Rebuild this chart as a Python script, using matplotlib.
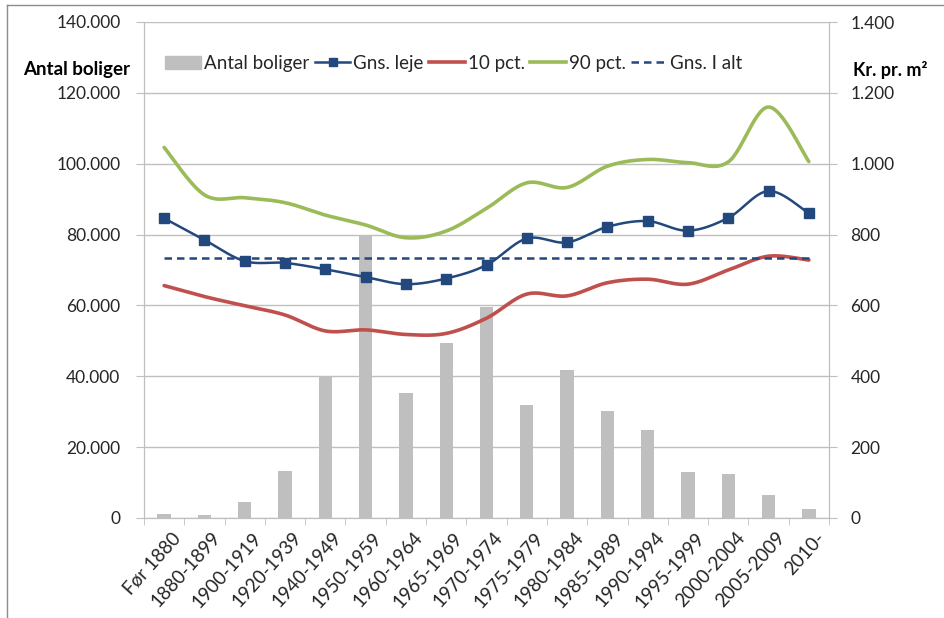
import numpy as np
import matplotlib.pyplot as plt
import matplotlib.transforms as mtransforms
from matplotlib.lines import Line2D
from matplotlib.patches import Patch

plt.rcParams['font.family'] = ['Lato', 'DejaVu Sans']

perioder = ['Før 1880', '1880-1899', '1900-1919', '1920-1939', '1940-1949',
            '1950-1959', '1960-1964', '1965-1969', '1970-1974', '1975-1979',
            '1980-1984', '1985-1989', '1990-1994', '1995-1999', '2000-2004',
            '2005-2009', '2010-']
antal_boliger = [1200, 900, 4500, 13200, 40000, 80000, 35200, 49400, 59500,
                 32000, 41800, 30200, 24800, 12900, 12300, 6500, 2600]
gns_leje = [846, 785, 725, 720, 702, 680, 660, 676, 714, 789, 778, 822, 838,
            811, 847, 923, 860]
pct10 = [656, 625, 599, 573, 528, 531, 518, 521, 564, 632, 627, 664, 674,
         660, 700, 739, 728]
pct90 = [1046, 912, 904, 890, 855, 827, 791, 810, 874, 946, 933, 993, 1012,
         1003, 1005, 1160, 1006]
gns_i_alt = 735


def smooth(x, y, n=30):
    # Excel-style smoothed line (Catmull-Rom bezier through the points)
    x = np.asarray(x, float)
    y = np.asarray(y, float)
    px = np.concatenate([[x[0]], x, [x[-1]]])
    py = np.concatenate([[y[0]], y, [y[-1]]])
    xs, ys = [], []
    t = np.linspace(0, 1, n)
    for i in range(1, len(px) - 2):
        p0 = np.array([px[i], py[i]])
        p3 = np.array([px[i + 1], py[i + 1]])
        c1 = p0 + (np.array([px[i + 1], py[i + 1]]) - np.array([px[i - 1], py[i - 1]])) / 6
        c2 = p3 - (np.array([px[i + 2], py[i + 2]]) - np.array([px[i], py[i]])) / 6
        b = ((1 - t) ** 3)[:, None] * p0 + (3 * (1 - t) ** 2 * t)[:, None] * c1 \
            + (3 * (1 - t) * t ** 2)[:, None] * c2 + (t ** 3)[:, None] * p3
        xs.extend(b[:, 0])
        ys.extend(b[:, 1])
    return xs, ys


fig = plt.figure(figsize=(9.44, 6.18), dpi=100)
ax = fig.add_axes([144 / 944, 1 - 518 / 618, 685 / 944, 496 / 618])
ax2 = ax.twinx()

x = np.arange(len(perioder))
grid_c = '#BFBFBF'
blue = '#23487E'
red = '#C0504D'
green = '#9BBB59'
text_c = '#262626'

ax.bar(x, antal_boliger, width=0.33, color='#BFBFBF', zorder=2)
ax.set_ylim(0, 140000)
ax.set_xlim(-0.5, len(perioder) - 0.5)
ax.set_yticks(np.arange(0, 140001, 20000))
ax.set_yticklabels([f'{v:,}'.replace(',', '.') for v in range(0, 140001, 20000)])
ax.yaxis.grid(True, color=grid_c, lw=1)
ax.set_axisbelow(True)

ax2.set_ylim(0, 1400)
ax2.set_yticks(np.arange(0, 1401, 200))
ax2.set_yticklabels([f'{v:,}'.replace(',', '.') for v in range(0, 1401, 200)])

sx, sy = smooth(x, pct90)
ax2.plot(sx, sy, color=green, lw=2.6, solid_capstyle='round')
sx, sy = smooth(x, pct10)
ax2.plot(sx, sy, color=red, lw=2.6, solid_capstyle='round')
ax2.plot([x[0], x[-1]], [gns_i_alt, gns_i_alt], color=blue, lw=1.8,
         ls=(0, (3, 2)))
sx, sy = smooth(x, gns_leje)
ax2.plot(sx, sy, color=blue, lw=1.8)
ax2.plot(x, gns_leje, ls='none', marker='s', ms=7, color=blue)

ax.set_xticks(x)
ax.set_xticklabels(perioder, rotation=48, ha='right', rotation_mode='anchor')
ax.set_xticks(np.arange(-0.5, len(perioder)), minor=True)
ax.tick_params(axis='x', which='major', length=0, pad=8, labelsize=13.5,
               labelcolor=text_c)
ax.tick_params(axis='x', which='minor', length=5, color=grid_c, direction='out')
ax.tick_params(axis='y', length=6, color=grid_c, labelsize=12.5,
               labelcolor=text_c, pad=11)
ax2.tick_params(axis='y', length=6, color=grid_c, labelsize=12.5,
                labelcolor=text_c, pad=9.5)

shift = mtransforms.ScaledTranslation(7 / 100, 0, fig.dpi_scale_trans)
for lab in ax.get_xticklabels():
    lab.set_transform(lab.get_transform() + shift)

for a in (ax, ax2):
    a.spines['top'].set_visible(False)
    for s in ('left', 'right', 'bottom'):
        a.spines[s].set_color(grid_c)

fig.text(23 / 944, 1 - 69 / 618, 'Antal boliger', fontsize=13.5, weight='bold',
         va='center', ha='left', color='black')
fig.text(853 / 944, 1 - 70 / 618, 'Kr. pr. m²', fontsize=13, weight='bold',
         va='center', ha='left', color='black')

handles = [Patch(color='#BFBFBF'),
           Line2D([], [], color=blue, lw=1.8, marker='s', ms=6),
           Line2D([], [], color=red, lw=2.6),
           Line2D([], [], color=green, lw=2.6),
           Line2D([], [], color=blue, lw=1.8, ls=(0, (3, 2)))]
labels = ['Antal boliger', 'Gns. leje', '10 pct.', '90 pct.', 'Gns. I alt']
ax.legend(handles, labels, loc='center', bbox_to_anchor=(0.452, 0.917),
          ncol=5, frameon=False, fontsize=13.5, handlelength=1.9,
          handletextpad=0.15, columnspacing=0.3, labelcolor=text_c)

# outer frame of the original figure
fig.add_artist(Line2D([7 / 944, 7 / 944], [0, 1 - 5 / 618],
                      transform=fig.transFigure, color='#8C8C8C', lw=1))
fig.add_artist(Line2D([7 / 944, 1], [1 - 5 / 618, 1 - 5 / 618],
                      transform=fig.transFigure, color='#8C8C8C', lw=1))

fig.savefig('out.png', dpi=100)
